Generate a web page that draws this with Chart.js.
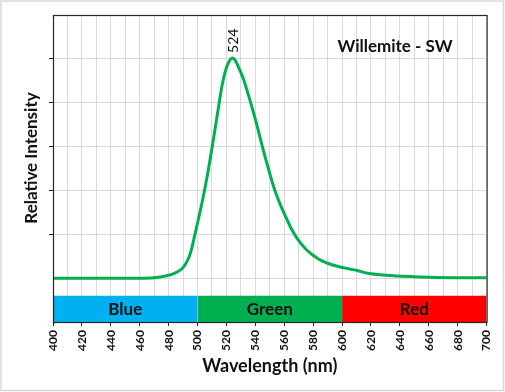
<!DOCTYPE html>
<html><head><meta charset="utf-8">
<script src="https://cdn.jsdelivr.net/npm/chart.js@4.4.0/dist/chart.umd.min.js"></script>
<style>html,body{margin:0;padding:0;background:#fff}#wrap{width:505px;height:392px}</style>
</head><body><div id="wrap"><canvas id="c" width="505" height="392"></canvas></div>
<script>
// ---- data ----
const wavelengths = [400, 420, 440, 460, 470, 478, 484, 490, 494, 496, 498, 501, 504, 507, 510, 513, 515, 517, 519.5, 522, 524, 526, 529, 532, 535, 538, 541, 545, 549, 553, 557, 561, 565, 569, 575, 584, 590, 598, 605, 611, 618, 628, 639, 650, 660, 680, 700];
const intensity   = [1.0, 1.0, 1.0, 1.0, 1.01, 1.05, 1.11, 1.24, 1.47, 1.68, 1.97, 2.40, 2.86, 3.38, 3.97, 4.58, 5.00, 5.40, 5.75, 5.95, 6.02, 5.97, 5.76, 5.52, 5.20, 4.86, 4.50, 3.98, 3.50, 3.05, 2.70, 2.40, 2.12, 1.90, 1.66, 1.43, 1.34, 1.26, 1.21, 1.17, 1.11, 1.07, 1.05, 1.03, 1.02, 1.01, 1.01];
const bandNames  = ['Blue', 'Green', 'Red'];
const bandStarts = [400, 500, 600];
const bandEnds   = [500, 600, 700];
const bandColors = ['#00b0f0', '#00b050', '#ff0000'];
const bandTop = 0.6;
const peakWavelength = 524;
const chartTitle = 'Willemite - SW';
const xTitle = 'Wavelength (nm)';
const yTitle = 'Relative Intensity';
const xMin = 400, xMax = 700, xGridStep = 10, xLabelStep = 20;
const yMin = 0, yMax = 7;

const FAM = 'Lato, "Open Sans", "Liberation Sans", sans-serif';
Chart.defaults.font.family = FAM;
Chart.defaults.color = '#111';

const datasets = [{
  label: 'Willemite',
  data: wavelengths.map((x, i) => ({x, y: intensity[i]})),
  borderColor: '#00b050', borderWidth: 3, pointRadius: 0,
  cubicInterpolationMode: 'monotone', fill: false
}];
bandNames.forEach((n, i) => {
  datasets.push({
    label: n,
    data: [{x: bandStarts[i], y: bandTop}, {x: bandEnds[i], y: bandTop}],
    borderColor: 'transparent', borderWidth: 0, pointRadius: 0,
    backgroundColor: bandColors[i], fill: 'origin'
  });
});

const deco = {
  id: 'deco',
  beforeDraw(chart) {
    const c = chart.ctx;
    c.save(); c.fillStyle = '#fff'; c.fillRect(0, 0, chart.width, chart.height); c.restore();
  },
  afterDatasetsDraw(chart) {
    const c = chart.ctx, xs = chart.scales.x, ys = chart.scales.y;
    c.save();
    c.fillStyle = '#111';
    c.font = 'bold 17px ' + FAM;
    c.textAlign = 'center'; c.textBaseline = 'middle';
    const yMid = (ys.getPixelForValue(0) + ys.getPixelForValue(bandTop)) / 2;
    bandNames.forEach((n, i) => {
      const xm = (xs.getPixelForValue(bandStarts[i]) + xs.getPixelForValue(bandEnds[i])) / 2;
      c.fillText(n, xm, yMid + 1);
    });
    c.restore();
  },
  afterDraw(chart) {
    const c = chart.ctx, a = chart.chartArea, xs = chart.scales.x, ys = chart.scales.y;
    c.save();
    // plot border
    c.strokeStyle = '#262626'; c.lineWidth = 1.2;
    c.strokeRect(a.left + 0.5, a.top + 0.5, a.right - a.left, a.bottom - a.top);
    // outer border
    c.strokeStyle = '#d9d9d9'; c.lineWidth = 1.5;
    c.strokeRect(1, 1, chart.width - 2.5, chart.height - 2.5);
    // title inside plot
    c.fillStyle = '#111';
    c.font = 'bold 17px ' + FAM;
    c.textAlign = 'center'; c.textBaseline = 'middle';
    c.fillText(chartTitle, 395, 47);
    // y axis title
    c.save();
    c.translate(32, 158); c.rotate(-Math.PI / 2);
    c.font = 'bold 17px ' + FAM;
    c.fillText(yTitle, 0, 0);
    c.restore();
    // peak label
    const idx = wavelengths.indexOf(peakWavelength);
    const px = xs.getPixelForValue(peakWavelength) + 1.5;
    const py = ys.getPixelForValue(intensity[idx]) - 5;
    c.save();
    c.translate(px, py); c.rotate(-Math.PI / 2);
    c.font = '14px ' + FAM;
    c.textAlign = 'left'; c.textBaseline = 'middle';
    c.fillText(String(peakWavelength), 0, 0);
    c.restore();
    c.restore();
  }
};

new Chart(document.getElementById('c'), {
  type: 'line',
  data: {datasets},
  plugins: [deco],
  options: {
    responsive: false, animation: false, devicePixelRatio: 1,
    layout: {padding: {left: 0, top: 15, right: 16, bottom: 0}},
    plugins: {legend: {display: false}, tooltip: {enabled: false}},
    scales: {
      x: {
        type: 'linear', min: xMin, max: xMax,
        afterFit(s) { s.height = 70; },
        border: {display: false},
        grid: {
          color: '#d9d9d9', lineWidth: 1, tickLength: 4, drawTicks: true,
          tickColor: ctx => (ctx.tick && ctx.tick.value % xLabelStep === 0) ? '#262626' : 'rgba(0,0,0,0)'
        },
        ticks: {
          stepSize: xGridStep, autoSkip: false, minRotation: 90, maxRotation: 90, padding: 4,
          font: {size: 12, weight: 'bold'}, color: '#111',
          callback: v => (v % xLabelStep === 0 ? String(v) : '')
        },
        title: {display: true, text: xTitle, font: {size: 18, weight: 'bold'}, color: '#111', padding: {top: 2, bottom: 15}}
      },
      y: {
        type: 'linear', min: yMin, max: yMax,
        afterFit(s) { s.width = 53; },
        border: {display: false},
        grid: {
          color: '#d9d9d9', lineWidth: 1, tickLength: 4, drawTicks: true,
          tickColor: ctx => (ctx.tick && ctx.tick.value >= 2 && ctx.tick.value <= 6) ? '#262626' : 'rgba(0,0,0,0)'
        },
        ticks: {stepSize: 1, display: false}
      }
    }
  }
});
</script>
</body></html>
